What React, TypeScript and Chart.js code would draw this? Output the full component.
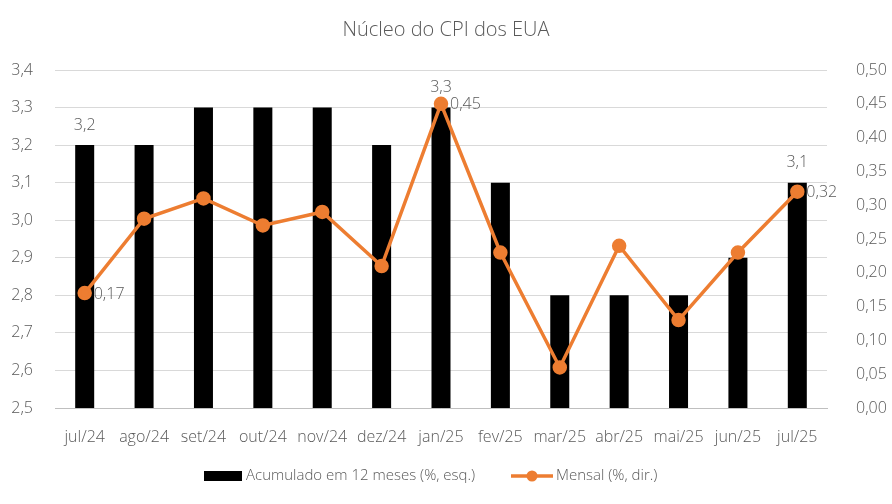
import React, { useEffect, useRef } from "react";
import Chart from "chart.js/auto";

const categories = ["jul/24", "ago/24", "set/24", "out/24", "nov/24", "dez/24", "jan/25", "fev/25", "mar/25", "abr/25", "mai/25", "jun/25", "jul/25"];
const acumulado = [3.2, 3.2, 3.3, 3.3, 3.3, 3.2, 3.3, 3.1, 2.8, 2.8, 2.8, 2.9, 3.1];
const mensal = [0.17, 0.28, 0.31, 0.27, 0.29, 0.21, 0.45, 0.23, 0.06, 0.24, 0.13, 0.23, 0.32];
// points that carry a value label
const labelled = [0, 6, 12];

const FONT = "'Open Sans', 'Noto Sans', sans-serif";
const TEXT = "#595959";
const ORANGE = "#ED7D31";

const fmt = (v: number, d: number) => v.toFixed(d).replace(".", ",");

const extras = {
  id: "extras",
  afterDatasetsDraw(chart: any) {
    const ctx = chart.ctx;
    ctx.save();
    ctx.font = `300 16px ${FONT}`;
    ctx.fillStyle = TEXT;
    const bars = chart.getDatasetMeta(0).data;
    const pts = chart.getDatasetMeta(1).data;
    labelled.forEach((i) => {
      ctx.textAlign = "center";
      ctx.textBaseline = "middle";
      ctx.fillText(fmt(acumulado[i], 1), bars[i].x, bars[i].y - 20);
      ctx.textAlign = "left";
      ctx.fillText(fmt(mensal[i], 2), pts[i].x + 9, pts[i].y + 1);
    });
    ctx.restore();
  },
  afterDraw(chart: any) {
    const ctx = chart.ctx;
    ctx.save();
    ctx.fillStyle = TEXT;
    ctx.textBaseline = "middle";
    ctx.textAlign = "center";
    ctx.font = `300 20px ${FONT}`;
    ctx.fillText("Núcleo do CPI dos EUA", chart.width / 2, 30);

    // legend
    ctx.font = `300 15px ${FONT}`;
    ctx.textAlign = "left";
    const ly = 476;
    ctx.fillStyle = "#000";
    ctx.fillRect(204, ly - 5, 38, 10);
    ctx.fillStyle = TEXT;
    ctx.fillText("Acumulado em 12 meses (%, esq.)", 246, ly);
    ctx.strokeStyle = ORANGE;
    ctx.lineWidth = 3.5;
    ctx.beginPath();
    ctx.moveTo(511, ly);
    ctx.lineTo(553, ly);
    ctx.stroke();
    ctx.fillStyle = ORANGE;
    ctx.beginPath();
    ctx.arc(532, ly, 5.5, 0, Math.PI * 2);
    ctx.fill();
    ctx.fillStyle = TEXT;
    ctx.fillText("Mensal (%, dir.)", 556, ly);
    ctx.restore();
  },
};

const App = () => {
  const chartRef = useRef<HTMLCanvasElement | null>(null);

  useEffect(() => {
    if (!chartRef.current) return;
    const ctx = chartRef.current.getContext("2d");
    if (!ctx) return;

    const tickFont = { family: FONT, size: 16, weight: 300 as any };

    const chart = new Chart(ctx, {
      type: "bar",
      data: {
        labels: categories,
        datasets: [
          {
            type: "bar",
            label: "Acumulado em 12 meses (%, esq.)",
            data: acumulado,
            backgroundColor: "#000000",
            yAxisID: "y",
            barPercentage: 0.32,
            categoryPercentage: 1,
            order: 2,
          },
          {
            type: "line",
            label: "Mensal (%, dir.)",
            data: mensal,
            borderColor: ORANGE,
            backgroundColor: ORANGE,
            borderWidth: 3.5,
            pointRadius: 5.5,
            pointHoverRadius: 5.5,
            yAxisID: "y1",
            order: 1,
          },
        ],
      },
      options: {
        animation: false,
        responsive: false,
        maintainAspectRatio: false,
        layout: { padding: { top: 70, bottom: 51, left: 0, right: 0 } },
        plugins: {
          legend: { display: false },
          title: { display: false },
          tooltip: { enabled: false },
        },
        scales: {
          x: {
            grid: { display: false },
            border: { color: "#bfbfbf", width: 1 },
            ticks: { color: TEXT, font: tickFont, padding: 12, maxRotation: 0, autoSkip: false },
            afterFit: (s: any) => { s.height = 45; },
          },
          y: {
            position: "left",
            min: 2.5,
            max: 3.4,
            grid: { color: "#d9d9d9", lineWidth: 1, drawTicks: false },
            border: { display: false },
            ticks: {
              stepSize: 0.1,
              color: TEXT,
              font: tickFont,
              padding: 22,
              callback: (v: any) => fmt(Number(v), 1),
            },
            afterFit: (s: any) => { s.width = 55; },
          },
          y1: {
            position: "right",
            min: 0,
            max: 0.5,
            grid: { display: false },
            border: { display: false },
            ticks: {
              stepSize: 0.05,
              color: TEXT,
              font: tickFont,
              padding: 21,
              callback: (v: any) => fmt(Number(v), 2),
            },
            afterFit: (s: any) => { s.width = 65; },
          },
        },
      },
      plugins: [extras],
    });

    return () => {
      chart.destroy();
    };
  }, []);

  return (
    <div style={{ position: "absolute", left: 0, top: 0, width: 892, height: 504, background: "#fff" }}>
      <canvas ref={chartRef} width={892} height={504} style={{ width: 892, height: 504 }} />
    </div>
  );
};

export default App;
